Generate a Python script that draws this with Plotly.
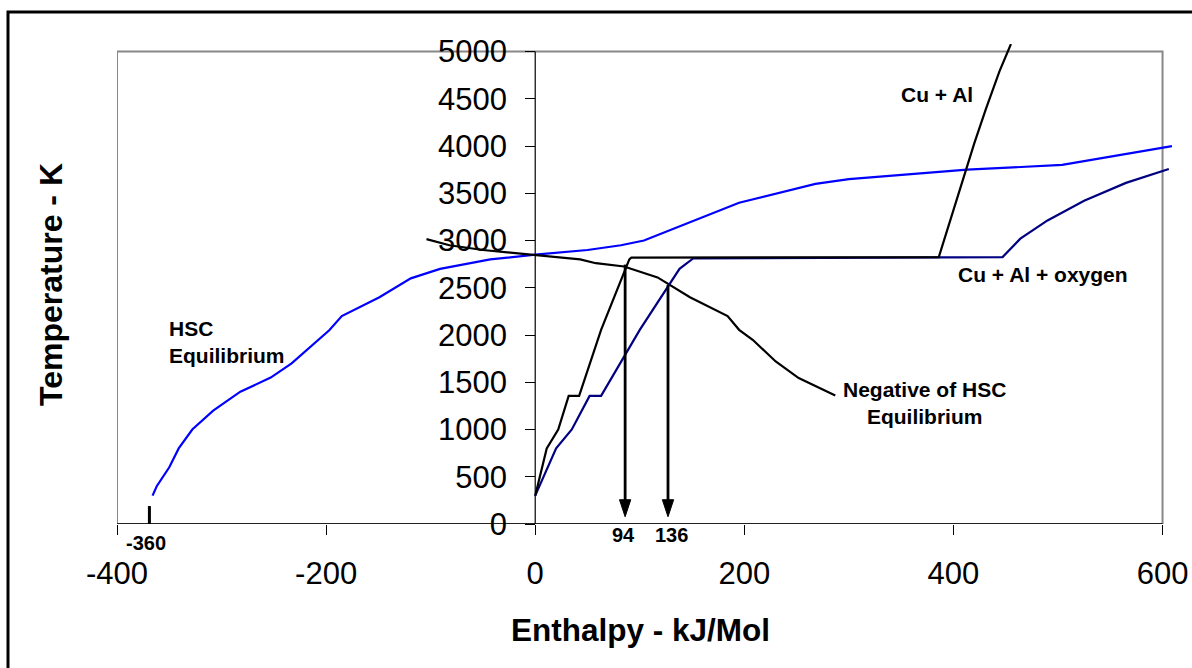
import plotly.graph_objects as go

# ---------------- data ----------------
hsc_x = [-366, -362, -350, -341, -328, -308, -282, -253, -233, -223, -208, -197, -185,
         -149, -119, -91, -43, 0, 50, 82, 104, 150, 195, 268, 300, 413, 504, 609]
hsc_y = [300, 400, 600, 800, 1000, 1200, 1400, 1550, 1700, 1800, 1950, 2050, 2200,
         2400, 2600, 2700, 2800, 2850, 2900, 2950, 3000, 3200, 3400, 3600, 3650, 3750, 3800, 4000]

neg_x = [-104, -82, -50, 0, 43, 58, 85, 117, 148, 184, 195, 208, 223, 230, 252, 287]
neg_y = [3015, 2950, 2900, 2850, 2800, 2760, 2725, 2610, 2400, 2200, 2055, 1950, 1800, 1720, 1545, 1360]

cual_x = [0, 11, 22, 32, 42, 52, 63, 90, 92, 386, 402, 420, 431, 444, 455]
cual_y = [300, 800, 1000, 1356, 1356, 1700, 2055, 2800, 2820, 2825, 3400, 4030, 4390, 4790, 5080]

cualo_x = [0, 20, 35, 52, 63, 81, 100, 138, 151, 447, 464, 490, 525, 565, 606]
cualo_y = [300, 800, 1000, 1356, 1356, 1700, 2055, 2700, 2810, 2825, 3020, 3213, 3420, 3610, 3757]

arrow_x = [86, 127]
arrow_top = [2745, 2530]
arrow_tip = [77, 77]
arrow_labels = ["94", "136"]

start_tick_x = -369
start_tick_label = "-360"

x_ticks = [-400, -200, 0, 200, 400, 600]
y_ticks = [0, 500, 1000, 1500, 2000, 2500, 3000, 3500, 4000, 4500, 5000]

# ---------------- layout geometry ----------------
W, H = 1192, 668
L, R, T, B = 117, 19, 44, 144
XR = [-400, 610]
YR = [0, 5080]
pw = W - L - R
ph = H - T - B


def px_to_paper(px, py):
    return (px - L) / pw, (H - B - py) / ph


def py_to_paper(py):
    return (H - B - py) / ph


FONT = "Liberation Sans, Arial, sans-serif"

fig = go.Figure()

fig.add_trace(go.Scatter(x=hsc_x, y=hsc_y, mode="lines",
                         line=dict(color="#0000FF", width=2.2), hoverinfo="skip"))
fig.add_trace(go.Scatter(x=neg_x, y=neg_y, mode="lines",
                         line=dict(color="#000000", width=2.2), hoverinfo="skip"))
fig.add_trace(go.Scatter(x=cualo_x, y=cualo_y, mode="lines",
                         line=dict(color="#000080", width=2.2), hoverinfo="skip"))
fig.add_trace(go.Scatter(x=cual_x, y=cual_y, mode="lines",
                         line=dict(color="#000000", width=2.2), hoverinfo="skip"))

# arrows (shaft + filled head)
head_h = 180
head_hw = 5.4
for ax, top, tip in zip(arrow_x, arrow_top, arrow_tip):
    fig.add_trace(go.Scatter(x=[ax, ax], y=[top, tip + head_h * 0.5], mode="lines",
                             line=dict(color="black", width=2.8), hoverinfo="skip"))
    fig.add_trace(go.Scatter(x=[ax - head_hw, ax + head_hw, ax, ax - head_hw],
                             y=[tip + head_h, tip + head_h, tip, tip + head_h],
                             mode="lines", fill="toself", fillcolor="black",
                             line=dict(color="black", width=1), hoverinfo="skip"))

shapes = []
# grey plot frame
shapes.append(dict(type="rect", xref="x", yref="y", x0=XR[0], x1=600, y0=0, y1=5000,
                   line=dict(color="#888888", width=2), layer="below"))
# axis lines
shapes.append(dict(type="line", xref="x", yref="y", x0=XR[0], x1=600, y0=0, y1=0,
                   line=dict(color="black", width=1.5), layer="below"))
shapes.append(dict(type="line", xref="x", yref="y", x0=0, x1=0, y0=0, y1=5000,
                   line=dict(color="black", width=1.2), layer="below"))
# start tick mark
shapes.append(dict(type="line", xref="x", yref="y", x0=start_tick_x, x1=start_tick_x,
                   y0=0, y1=190, line=dict(color="black", width=3)))
# outer border
bx0, by0 = px_to_paper(8, 675)
bx1, by1 = px_to_paper(1200, 12)
shapes.append(dict(type="rect", xref="paper", yref="paper", x0=bx0, x1=bx1, y0=by0, y1=by1,
                   line=dict(color="black", width=3)))

annotations = []


def ann(text, x, y, size=21, xanchor="center", yanchor="middle", align="center",
        xref="x", yref="y", textangle=0):
    annotations.append(dict(text=text, x=x, y=y, xref=xref, yref=yref, showarrow=False,
                            xanchor=xanchor, yanchor=yanchor, align=align,
                            textangle=textangle,
                            font=dict(family=FONT, size=size, color="black")))


ann("<b>HSC<br>Equilibrium</b>", -352, 1930, xanchor="left", align="left")
ann("<b>Cu + Al</b>", 348, 4545, xanchor="left", align="left")
ann("<b>Cu + Al + oxygen</b>", 486, 2640)
ann("<b>Negative of HSC<br>Equilibrium</b>", 372, 1280)
for lx, lab in zip([84, 130], arrow_labels):
    ann("<b>%s</b>" % lab, lx, py_to_paper(535), size=20, yref="paper")
ann("<b>%s</b>" % start_tick_label, -372, py_to_paper(543), size=20, yref="paper")

tx, ty = px_to_paper(640, 630)
ann("<b>Enthalpy - kJ/Mol</b>", tx, ty, size=31.5, xref="paper", yref="paper")
tx, ty = px_to_paper(51, 285)
ann("<b>Temperature - K</b>", tx, ty, size=32, xref="paper", yref="paper", textangle=-90)

fig.update_layout(
    width=W, height=H,
    margin=dict(l=L, r=R, t=T, b=B, pad=0, autoexpand=False),
    paper_bgcolor="white", plot_bgcolor="white",
    showlegend=False,
    font=dict(family=FONT, color="black"),
    shapes=shapes, annotations=annotations,
    xaxis=dict(range=XR, domain=[0, 1], tickvals=x_ticks, ticktext=[str(v) for v in x_ticks],
               ticks="outside", ticklen=10, tickwidth=1.2, tickcolor="black",
               showline=False, showgrid=False, zeroline=False, automargin=False,
               tickfont=dict(family=FONT, size=31, color="black"),
               ticklabelstandoff=12, anchor="y", fixedrange=True),
    yaxis=dict(range=YR, tickvals=y_ticks, ticktext=[str(v) for v in y_ticks],
               anchor="free", position=(0 - XR[0]) / (XR[1] - XR[0]), side="left",
               ticks="outside", ticklen=10, tickwidth=1.2, tickcolor="black",
               showline=False, showgrid=False, zeroline=False, automargin=False,
               tickfont=dict(family=FONT, size=31, color="black"),
               ticklabelstandoff=12, fixedrange=True),
)

fig.write_html("out.html")
